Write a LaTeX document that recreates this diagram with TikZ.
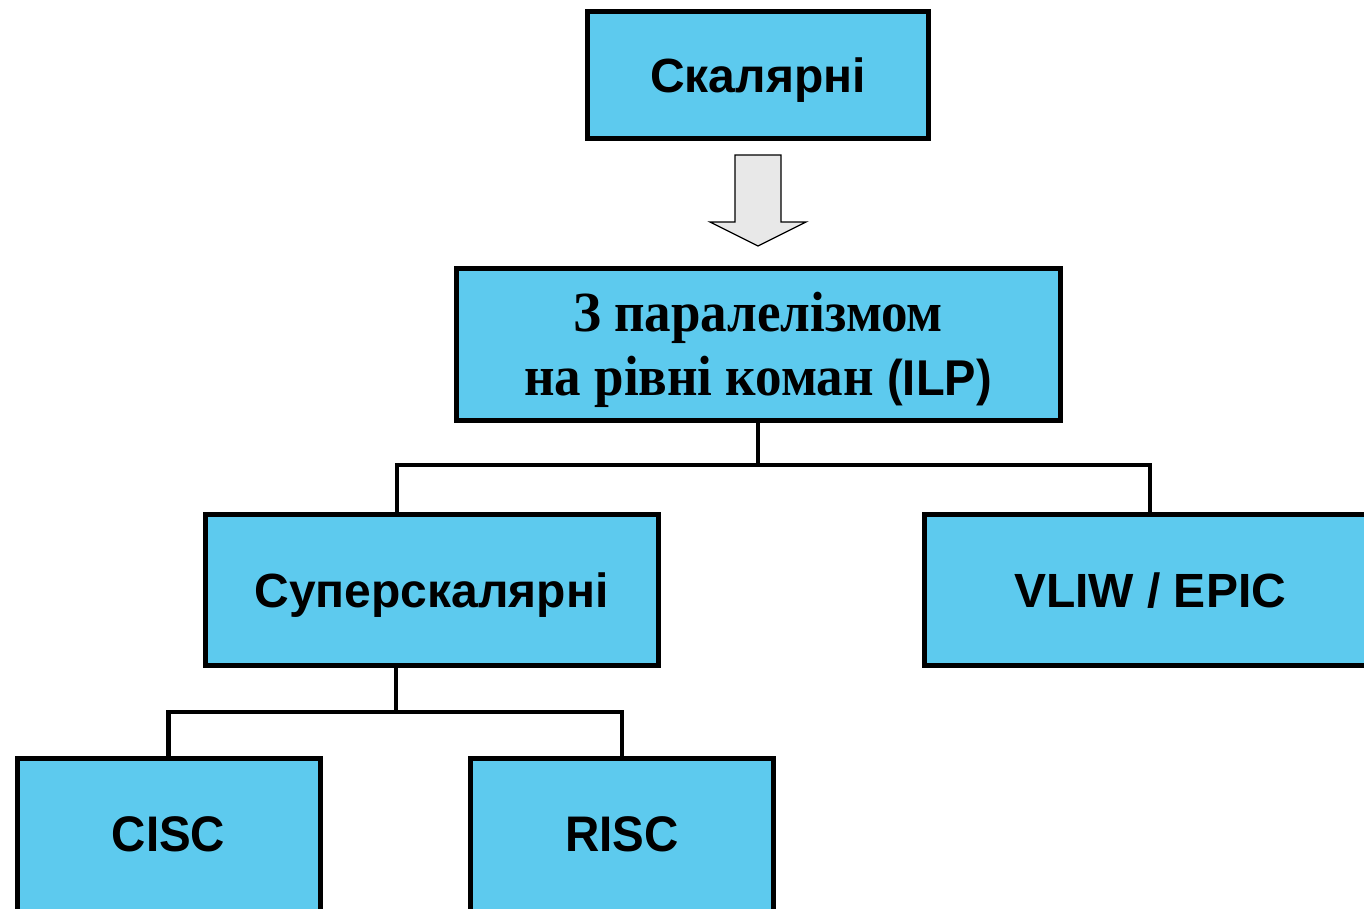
\documentclass[tikz,border=0pt]{standalone}
\usepackage{fontspec}
\setmainfont{Liberation Serif}
\newfontfamily\arialf{Liberation Sans}
\definecolor{boxblue}{RGB}{93,202,238}
\definecolor{arrowgray}{RGB}{232,232,232}
\begin{document}
\begin{tikzpicture}[x=1pt,y=-1pt,
  box/.style={draw=black,line width=5pt,fill=boxblue,inner sep=0pt,align=center},
  conn/.style={draw=black,line width=4.5pt},
  lbl/.style={inner sep=0pt,anchor=base},
  blockarrow/.style={draw=black,line width=1.3pt,fill=arrowgray,line join=miter}]
\useasboundingbox (0,0) rectangle (1364,908);
\clip (0,0) rectangle (1364,908);
\node[box,minimum width=341pt,minimum height=127pt] (top) at (758,74.5) {};
\node[lbl] (toplbl) at (758,92) {\arialf\bfseries\fontsize{48}{56}\selectfont Скалярні};
\node[box,minimum width=604pt,minimum height=152pt] (ilp) at (758,344) {};
\node[lbl] (ilpa) at (758,331)
  {\bfseries\fontsize{53}{59}\selectfont\scalebox{1}[1.07]{З паралелізмом}};
\node[lbl] (ilpb) at (758,395)
  {\bfseries\fontsize{53}{59}\selectfont\scalebox{1}[1.07]{на рівні коман {\arialf\fontsize{47}{59}\selectfont(ILP)}}};
\node[box,minimum width=453pt,minimum height=151pt] (sup) at (431.5,589.5) {};
\node[lbl] (suplbl) at (431.5,607) {\arialf\bfseries\fontsize{48}{56}\selectfont Суперскалярні};
\node[box,minimum width=452pt,minimum height=151pt] (vliw) at (1150,589.5) {};
\node[lbl] (vliwlbl) at (1150,607) {\arialf\bfseries\fontsize{48}{56}\selectfont VLIW / EPIC};
\node[box,minimum width=303pt,minimum height=154pt] (cisc) at (168.5,835) {};
\node[lbl] (cisclbl) at (168.5,851) {\arialf\bfseries\fontsize{50}{56}\selectfont\scalebox{0.95}[1]{CISC}};
\node[box,minimum width=303pt,minimum height=154pt] (risc) at (622,835) {};
\node[lbl] (risclbl) at (622,851) {\arialf\bfseries\fontsize{50}{56}\selectfont\scalebox{0.95}[1]{RISC}};
% block arrow
\draw[blockarrow] (735,155) -- (781,155) -- (781,222) -- (806,222) -- (758,246)
  -- (710,222) -- (735,222) -- cycle;
% connectors level 1
\coordinate (a1) at (397,465);
\coordinate (a2) at (1150,465);
\draw[conn] (ilp.south) -- (ilp.south |- a1);
\draw[conn] ([xshift=-2.25pt]a1) -- ([xshift=2.25pt]a2);
\draw[conn] (a1) -- (a1 |- sup.north);
\draw[conn] (a2) -- (vliw.north);
% connectors level 2
\coordinate (b1) at (168.5,712);
\coordinate (b2) at (622,712);
\coordinate (bm) at (396,712);
\draw[conn] (sup.south -| bm) -- (bm);
\draw[conn] ([xshift=-2.25pt]b1) -- ([xshift=2.25pt]b2);
\draw[conn] (b1) -- (cisc.north);
\draw[conn] (b2) -- (risc.north);
\end{tikzpicture}
\end{document}
